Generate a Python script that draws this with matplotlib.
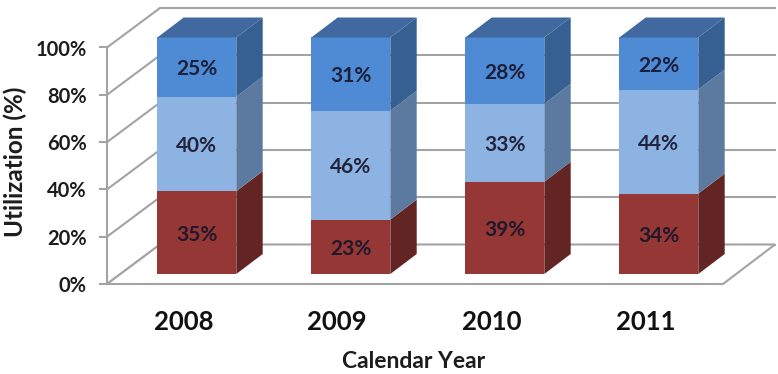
import matplotlib
matplotlib.use("Agg")
import matplotlib.pyplot as plt
from matplotlib.patches import Polygon

plt.rcParams['font.family'] = ['Lato', 'DejaVu Sans']

years = ['2008', '2009', '2010', '2011']
red_values = [35, 23, 39, 34]
light_values = [40, 46, 33, 44]
blue_values = [25, 31, 28, 22]
y_ticks = [0, 20, 40, 60, 80, 100]

W, H = 778, 374
fig = plt.figure(figsize=(W / 100, H / 100), dpi=100, facecolor='white')
ax = fig.add_axes([0, 0, 1, 1])
ax.axis('off')

# scale: category step and value step in pixels
STEP = 154.0
UNIT = 2.365
X0, Y0 = 196.8, 274.0
ax.set_xlim((0 - X0) / STEP, (W - X0) / STEP)
ax.set_ylim((Y0 - H) / UNIT, Y0 / UNIT)

BAR_W = 79.0 / STEP
DX, DY = 26.4 / STEP, 20.0 / UNIT


def px(x):
    return (x - X0) / STEP


# chart box, relative to the bar plane
FRONT_L, FRONT_R = px(107), px(723)
BACK_L, BACK_R = px(160), px(775)
FRONT_DY = -10.0 / UNIT
BACK_DY = 29.5 / UNIT
GRID = '#a3a3a3'
LW = 1.5
TEXT_SHIFT = 2.0 / UNIT

for t in y_ticks:
    yf, yb = t + FRONT_DY, t + BACK_DY
    ax.plot([FRONT_L, BACK_L], [yf, yb], color=GRID, lw=LW, zorder=1, solid_capstyle='round')
    ax.plot([BACK_L, BACK_R], [yb, yb], color=GRID, lw=LW, zorder=1)
    ax.plot([px(100), FRONT_L], [yf, yf], color=GRID, lw=LW, zorder=1)
    ax.text(px(87), yf - TEXT_SHIFT, f'{t}%', ha='right', va='center', fontsize=14.5,
            fontweight='bold', color='#1c1c1c', zorder=6)

ax.plot([FRONT_L, FRONT_L], [FRONT_DY, 100 + FRONT_DY], color=GRID, lw=LW, zorder=1)
ax.add_patch(Polygon([(FRONT_L, FRONT_DY), (FRONT_R, FRONT_DY), (BACK_R, BACK_DY), (BACK_L, BACK_DY)],
                     closed=True, facecolor='white', edgecolor=GRID, lw=LW, zorder=1.5))

# (front, side, top) colours per series, bottom to top
series = [
    (red_values, '#953735', '#632523', '#7a2c2a'),
    (light_values, '#8db3e2', '#5c7a9f', '#7297c6'),
    (blue_values, '#4f8ad4', '#365f92', '#41699f'),
]

for i, year in enumerate(years):
    base = 0
    left, right = i - BAR_W / 2, i + BAR_W / 2
    for vals, front, side, top in series:
        v = vals[i]
        ax.bar(i, v, width=BAR_W, bottom=base, color=front, linewidth=0, zorder=3)
        ax.add_patch(Polygon([(right, base), (right + DX, base + DY),
                              (right + DX, base + v + DY), (right, base + v)],
                             closed=True, facecolor=side, edgecolor='none', zorder=3))
        ax.text(i, base + v / 2 - TEXT_SHIFT, f'{v}%', ha='center', va='center', fontsize=15,
                fontweight='bold', color='#15152a', alpha=0.9, zorder=5)
        base += v
    ax.add_patch(Polygon([(left, base), (right, base), (right + DX, base + DY), (left + DX, base + DY)],
                         closed=True, facecolor=series[-1][3], edgecolor='none', zorder=3))
    ax.text(i - 13.5 / STEP, (Y0 - 322) / UNIT, year, ha='center', va='center', fontsize=18.5,
            fontweight='bold', color='#111111', zorder=6)

ax.text(px(414), (Y0 - 362) / UNIT, 'Calendar Year', ha='center', va='center', fontsize=16.5,
        fontweight='bold', color='#1c1c1c')
ax.text(px(15), (Y0 - 162) / UNIT, 'Utilization (%)', ha='center', va='center', rotation=90,
        fontsize=17.5, fontweight='bold', color='#1c1c1c')

fig.savefig('out.png', dpi=100, facecolor='white')
